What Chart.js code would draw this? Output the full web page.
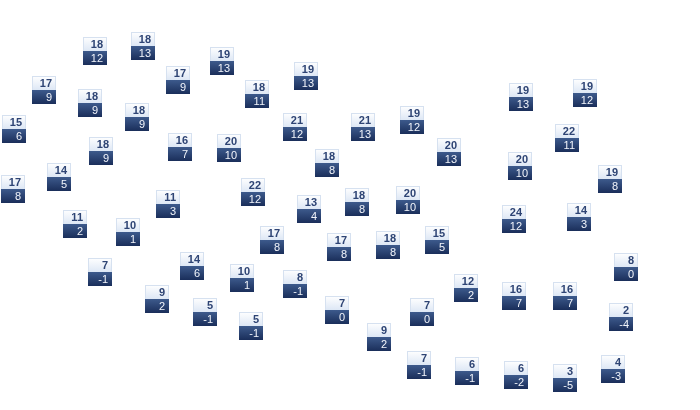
<!DOCTYPE html>
<html>
<head>
<meta charset="utf-8">
<script src="https://cdn.jsdelivr.net/npm/chart.js@4/dist/chart.umd.min.js"></script>
<style>
  html, body { margin: 0; padding: 0; background: #fff; }
  canvas { display: block; }
</style>
</head>
<body>
<canvas id="map" width="700" height="410"></canvas>
<script>
// station positions on the map (map units, y grows downward)
const stationX = [95, 143, 44, 90, 137, 14, 101, 59, 13, 75, 128, 168, 100, 192, 157, 205, 242, 251,
  178, 222, 257, 306, 180, 229, 295, 327, 253, 309, 357, 363, 412, 449, 521, 520, 408, 514, 437, 388,
  585, 567, 610, 579, 272, 339, 295, 337, 422, 379, 466, 514, 565, 626, 621, 419, 467, 516, 565, 613];
const stationY = [51, 46, 90, 103, 117, 129, 151, 177, 189, 224, 232, 204, 272, 266, 299, 312, 278, 326,
  80, 61, 94, 76, 147, 148, 127, 163, 192, 209, 202, 127, 120, 152, 97, 166, 200, 219, 240, 245,
  93, 138, 179, 217, 240, 247, 284, 310, 312, 337, 288, 296, 296, 267, 317, 365, 371, 375, 378, 369];
// daily high / low temperatures
const highs = [18, 18, 17, 18, 18, 15, 18, 14, 17, 11, 10, 11, 7, 14, 9, 5, 10, 5,
  17, 19, 18, 19, 16, 20, 21, 18, 22, 13, 18, 21, 19, 20, 19, 20, 20, 24, 15, 18,
  19, 22, 19, 14, 17, 17, 8, 7, 7, 9, 12, 16, 16, 8, 2, 7, 6, 6, 3, 4];
const lows = [12, 13, 9, 9, 9, 6, 9, 5, 8, 2, 1, 3, -1, 6, 2, -1, 1, -1,
  9, 13, 11, 13, 7, 10, 12, 8, 12, 4, 8, 13, 12, 13, 13, 10, 10, 12, 5, 8,
  12, 11, 8, 3, 8, 8, -1, 0, 0, 2, 2, 7, 7, 0, -4, -1, -1, -2, -5, -3];

const points = stationX.map((x, i) => ({ x: x, y: stationY[i] }));

const tempBoxes = {
  id: 'tempBoxes',
  afterDatasetsDraw(chart) {
    const ctx = chart.ctx;
    const meta = chart.getDatasetMeta(0);
    const w = 24, h = 14;
    ctx.save();
    meta.data.forEach((el, i) => {
      const left = Math.round(el.x - w / 2);
      const mid = Math.round(el.y);

      // upper half: high temperature
      let g = ctx.createLinearGradient(0, mid - h, 0, mid);
      g.addColorStop(0, '#ffffff');
      g.addColorStop(1, '#dde7f5');
      ctx.fillStyle = g;
      ctx.fillRect(left, mid - h, w, h);
      ctx.strokeStyle = '#d6e1f0';
      ctx.lineWidth = 1;
      ctx.strokeRect(left + 0.5, mid - h + 0.5, w - 1, h);

      // lower half: low temperature
      g = ctx.createLinearGradient(0, mid, 0, mid + h);
      g.addColorStop(0, '#3d5a8c');
      g.addColorStop(1, '#1a2e5a');
      ctx.fillStyle = g;
      ctx.fillRect(left, mid, w, h);

      ctx.textAlign = 'right';
      ctx.textBaseline = 'middle';
      ctx.font = 'bold 11px "Liberation Sans", Arial, sans-serif';
      ctx.fillStyle = '#2e4474';
      ctx.fillText(String(highs[i]), left + w - 4, mid - h / 2 + 1);
      ctx.font = '11px "Liberation Sans", Arial, sans-serif';
      ctx.fillStyle = '#f2f5fb';
      ctx.fillText(String(lows[i]), left + w - 4, mid + h / 2 + 1);
    });
    ctx.restore();
  }
};

new Chart(document.getElementById('map').getContext('2d'), {
  type: 'scatter',
  data: {
    datasets: [{
      label: 'Temperature',
      data: points,
      pointRadius: 0,
      pointHoverRadius: 0
    }]
  },
  options: {
    responsive: false,
    animation: false,
    layout: { padding: 0 },
    plugins: { legend: { display: false }, tooltip: { enabled: false } },
    scales: {
      x: { type: 'linear', min: 0, max: 700, display: false },
      y: { type: 'linear', min: 0, max: 410, reverse: true, display: false }
    }
  },
  plugins: [tempBoxes]
});
</script>
</body>
</html>
